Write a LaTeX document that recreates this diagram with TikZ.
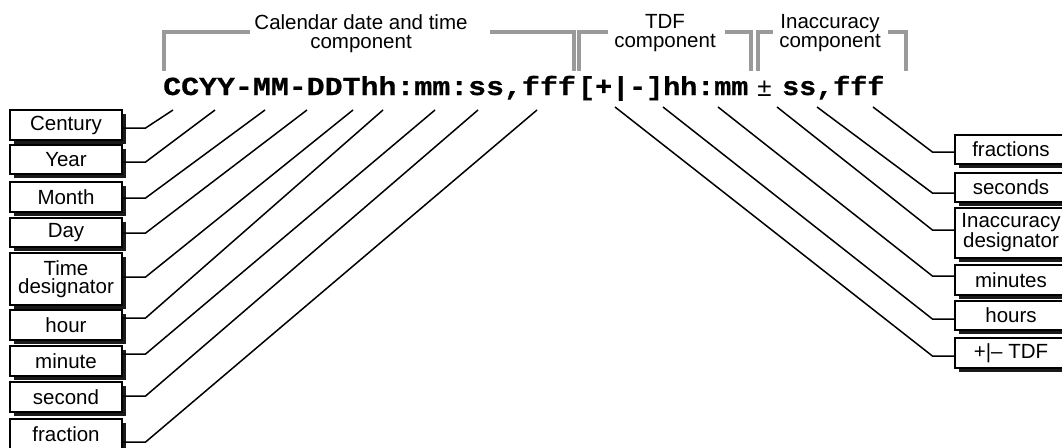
\documentclass[tikz,border=0pt]{standalone}
\usepackage{fontspec}
\usetikzlibrary{shadows}
\newfontfamily\lblfont{Liberation Sans}
\newfontfamily\pmfont{Liberation Sans}
\newfontfamily\codefontA[FakeStretch=1.15,FakeBold=0.8]{Liberation Mono}
\newfontfamily\codefontB[FakeStretch=1.09,FakeBold=0.8]{Liberation Mono}
\definecolor{brk}{HTML}{9A9A9A}
\definecolor{shd}{HTML}{1A1A1A}
\begin{document}
\begin{tikzpicture}[x=1pt,y=-1pt,
  lab/.style={font=\lblfont\fontsize{20.5}{19}\selectfont, align=center, inner sep=0pt, anchor=north},
  fbox/.style={draw=black, line width=1.2pt, fill=white, minimum width=112pt, inner sep=0pt, align=center,
    font=\lblfont\fontsize{20.5}{18.5}\selectfont,
    drop shadow={shadow xshift=4pt, shadow yshift=-4pt, fill=shd, opacity=1}},
  conn/.style={line width=1.5pt, line join=miter},
  brack/.style={draw=brk, line width=4pt, line join=miter, line cap=butt},
  codeA/.style={inner sep=0pt, anchor=base west, font=\codefontA\bfseries\fontsize{26}{26}\selectfont},
  codeB/.style={inner sep=0pt, anchor=base west, font=\codefontB\bfseries\fontsize{26}{26}\selectfont}
]
\useasboundingbox (0,0) rectangle (1062,447);
\fill[white] (0,0) rectangle (1062,447);

% header brackets
\draw[brack] (163.5,71) -- (163.5,32) -- (250,32);
\draw[brack] (490,32) -- (573.5,32) -- (573.5,71);
\draw[brack] (578.5,71) -- (578.5,32) -- (608,32);
\draw[brack] (725,32) -- (750.5,32) -- (750.5,71);
\draw[brack] (757.5,71) -- (757.5,32) -- (773,32);
\draw[brack] (888,32) -- (905.5,32) -- (905.5,71);

% header labels
\node[lab] (hcal) at (361,14) {Calendar date and time\\component};
\node[lab] (htdf) at (665,14) {TDF\\component};
\node[lab] (hina) at (830,14) {Inaccuracy\\component};

% format string
\node[codeA] (seg1) at (163,95) {CCYY-MM-DDThh:mm:ss,fff};
\node[codeB] (seg2) at (578,95) {[+|-]hh:mm};
\node[inner sep=0pt, anchor=base, font=\pmfont\fontsize{26}{26}\selectfont] (pm) at (764.5,96) {±};
\node[codeB] (seg3) at (782,95) {ss,fff};

% left boxes
\node[fbox, minimum height=30pt] (cen) at (66,125) {Century};
\node[fbox, minimum height=29pt] (yea) at (66,159.5) {Year};
\node[fbox, minimum height=30pt] (mon) at (66,197) {Month};
\node[fbox, minimum height=29pt] (day) at (66,232.5) {Day};
\node[fbox, minimum height=52pt] (tim) at (66,279) {Time\\designator};
\node[fbox, minimum height=30pt] (hou) at (66,325) {hour};
\node[fbox, minimum height=30pt] (min) at (66,361) {minute};
\node[fbox, minimum height=30pt] (sec) at (66,397) {second};
\node[fbox, minimum height=30pt] (fra) at (66,434) {fraction};

% right boxes
\node[fbox, minimum height=29pt] (rfr) at (1011,149.5) {fractions};
\node[fbox, minimum height=29pt] (rse) at (1011,187.5) {seconds};
\node[fbox, minimum height=50pt] (rin) at (1011,233) {Inaccuracy\\designator};
\node[fbox, minimum height=30pt] (rmi) at (1011,280) {minutes};
\node[fbox, minimum height=29pt] (rho) at (1011,315.5) {hours};
\node[fbox, minimum height=30pt] (rtd) at (1011,353) {+|– TDF};

% connector free ends under the format string
\coordinate (t1) at (173,110);
\coordinate (t2) at (215,110);
\coordinate (t3) at (265,110);
\coordinate (t4) at (307,110);
\coordinate (t5) at (353,110);
\coordinate (t6) at (383,110);
\coordinate (t7) at (435,110);
\coordinate (t8) at (478,110);
\coordinate (t9) at (537,110);
\coordinate (u1) at (615,107);
\coordinate (u2) at (663,107);
\coordinate (u3) at (718,107);
\coordinate (u4) at (777,107);
\coordinate (u5) at (817,107);
\coordinate (u6) at (873,107);

% left connectors
\draw[conn] (cen.east |- 0,128) -- ++(23,0) -- (t1);
\draw[conn] (yea.east |- 0,162) -- ++(23,0) -- (t2);
\draw[conn] (mon.east |- 0,198) -- ++(23,0) -- (t3);
\draw[conn] (day.east |- 0,233) -- ++(23,0) -- (t4);
\draw[conn] (tim.east |- 0,277) -- ++(23,0) -- (t5);
\draw[conn] (hou.east |- 0,318) -- ++(23,0) -- (t6);
\draw[conn] (min.east |- 0,354) -- ++(23,0) -- (t7);
\draw[conn] (sec.east |- 0,396) -- ++(23,0) -- (t8);
\draw[conn] (fra.east |- 0,442) -- ++(23,0) -- (t9);

% right connectors
\draw[conn] (rtd.west |- 0,356) -- ++(-22,0) -- (u1);
\draw[conn] (rho.west |- 0,319) -- ++(-22,0) -- (u2);
\draw[conn] (rmi.west |- 0,276) -- ++(-22,0) -- (u3);
\draw[conn] (rin.west |- 0,230) -- ++(-22,0) -- (u4);
\draw[conn] (rse.west |- 0,193) -- ++(-22,0) -- (u5);
\draw[conn] (rfr.west |- 0,152) -- ++(-22,0) -- (u6);
\end{tikzpicture}
\end{document}
